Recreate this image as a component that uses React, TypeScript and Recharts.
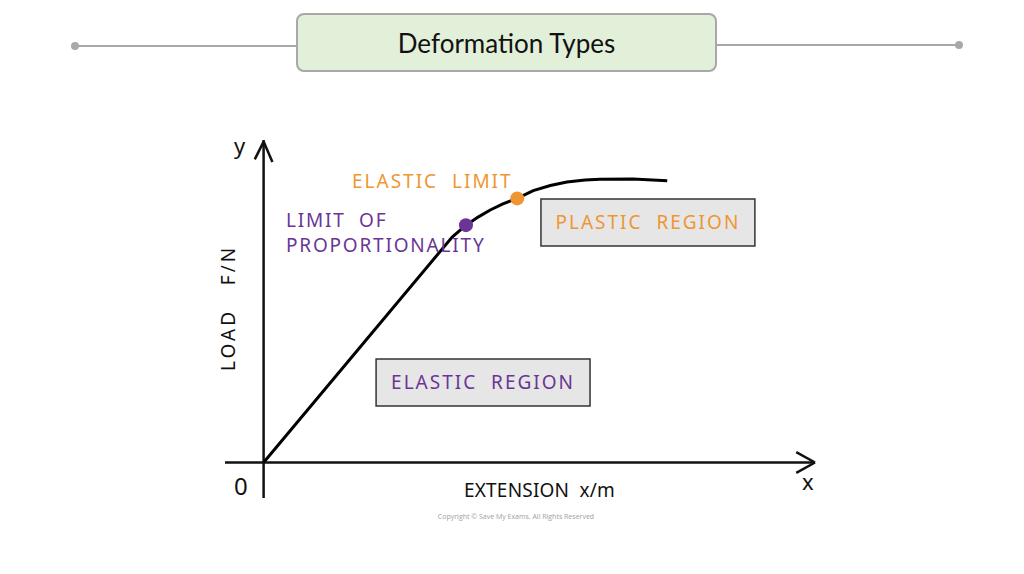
import React from 'react';
import { LineChart, Line, XAxis, YAxis, ReferenceLine, ReferenceArea, ReferenceDot } from 'recharts';

// curve of load against extension (chart units, 0..100 on both axes)
const extension = [0, 34.2, 36.7, 38.9, 41.1, 43.4, 46.0, 48.9, 52.0, 55.0, 58.3, 61.0, 67.0, 73.2];
const load = [0, 69.9, 73.6, 76.1, 78.3, 80.2, 81.9, 84.3, 85.9, 87.0, 87.6, 87.8, 87.9, 87.4];

const proportionality = { x: 36.7, y: 73.6 };
const elasticLimit = { x: 46.0, y: 81.9 };

const plasticBox = { x1: 50.3, x2: 89.1, y1: 67.1, y2: 81.7 };
const elasticBox = { x1: 20.4, x2: 59.2, y1: 17.5, y2: 32.1 };

const data = extension.map((x, i) => ({ x, load: load[i] }));

const PURPLE = '#6a3595';
const ORANGE = '#ef9633';
const FONT = '"Noto Sans", "DejaVu Sans", sans-serif';

const label = (text: string, color: string, left: number, top: number, size = 19, spacing = 1.8): React.ReactNode => (
  <div
    style={{
      position: 'absolute', left, top, color, fontSize: size, fontFamily: FONT,
      letterSpacing: spacing, whiteSpace: 'pre', lineHeight: 1,
    }}
  >
    {text}
  </div>
);

export default function App() {
  const axis = { stroke: '#111', strokeWidth: 2.5, ifOverflow: 'visible' as const };
  return (
    <div style={{ position: 'absolute', left: 0, top: 0, width: 1024, height: 574, background: '#fff', overflow: 'hidden' }}>
      {/* header */}
      <div style={{ position: 'absolute', left: 75, top: 45, width: 222, height: 2, background: '#a8a8a8' }} />
      <div style={{ position: 'absolute', left: 716, top: 44, width: 244, height: 2, background: '#a8a8a8' }} />
      <div style={{ position: 'absolute', left: 71, top: 42, width: 8, height: 8, borderRadius: 4, background: '#a8a8a8' }} />
      <div style={{ position: 'absolute', left: 955, top: 41, width: 8, height: 8, borderRadius: 4, background: '#a8a8a8' }} />
      <div
        style={{
          position: 'absolute', left: 296, top: 13, width: 417, height: 55, boxSizing: 'content-box',
          background: '#e2efd9', border: '2px solid #a8a8a8', borderRadius: 8,
          display: 'flex', alignItems: 'center', justifyContent: 'center',
          fontFamily: 'Lato, sans-serif', fontSize: 26, color: '#111',
        }}
      >
        Deformation Types
      </div>

      <div style={{ position: 'absolute', left: 0, top: 0 }}>
        <LineChart width={1024} height={574} data={data} margin={{ top: 140, right: 209, bottom: 76, left: 225 }}>
          <XAxis dataKey="x" type="number" domain={[-7, 100]} hide />
          <YAxis type="number" domain={[-11, 100]} hide />
          <ReferenceLine segment={[{ x: -7, y: 0 }, { x: 100, y: 0 }]} {...axis} />
          <ReferenceLine segment={[{ x: 0, y: -11 }, { x: 0, y: 100 }]} {...axis} />
          <ReferenceLine segment={[{ x: 96.6, y: 3.2 }, { x: 100, y: 0 }]} {...axis} />
          <ReferenceLine segment={[{ x: 96.6, y: -3.2 }, { x: 100, y: 0 }]} {...axis} />
          <ReferenceLine segment={[{ x: -1.6, y: 94.0 }, { x: 0, y: 99.5 }]} {...axis} />
          <ReferenceLine segment={[{ x: 1.6, y: 93.2 }, { x: 0, y: 99.5 }]} {...axis} />
          <ReferenceArea
            {...plasticBox}
            fill="#e6e6e6" fillOpacity={1} stroke="#333" strokeWidth={1.5} ifOverflow="visible"
            label={{ value: 'PLASTIC\u00a0\u00a0REGION', fill: ORANGE, fontSize: 19, fontFamily: FONT, letterSpacing: 2, position: 'center' }}
          />
          <ReferenceArea
            {...elasticBox}
            fill="#e6e6e6" fillOpacity={1} stroke="#333" strokeWidth={1.5} ifOverflow="visible"
            label={{ value: 'ELASTIC\u00a0\u00a0REGION', fill: PURPLE, fontSize: 19, fontFamily: FONT, letterSpacing: 2, position: 'center' }}
          />
          <Line dataKey="load" type="linear" stroke="#000" strokeWidth={3} dot={false} isAnimationActive={false} />
          <ReferenceDot {...proportionality} r={7} fill={PURPLE} stroke="none" />
          <ReferenceDot {...elasticLimit} r={7} fill={ORANGE} stroke="none" />
        </LineChart>
      </div>

      {label('ELASTIC  LIMIT', ORANGE, 352, 172, 19, 2)}
      {label('LIMIT  OF', PURPLE, 286, 211)}
      {label('PROPORTIONALITY', PURPLE, 286, 236)}
      {label('y', '#111', 234, 134, 22, 0)}
      {label('x', '#111', 802, 470, 22, 0)}
      {label('0', '#111', 234, 474, 24, 0)}
      {label('EXTENSION  x/m', '#111', 464, 481, 19, 0.2)}
      <div
        style={{
          position: 'absolute', left: 219, top: 371, color: '#111', fontSize: 19, fontFamily: FONT,
          letterSpacing: 3, whiteSpace: 'pre', lineHeight: 1, transform: 'rotate(-90deg)', transformOrigin: '0 0',
        }}
      >
        {'LOAD   F/N'}
      </div>
      <div
        style={{
          position: 'absolute', left: 0, width: 1032, top: 512, textAlign: 'center', color: '#a0a0a0',
          fontSize: 7, fontFamily: '"Open Sans", sans-serif',
        }}
      >
        Copyright © Save My Exams. All Rights Reserved
      </div>
    </div>
  );
}
